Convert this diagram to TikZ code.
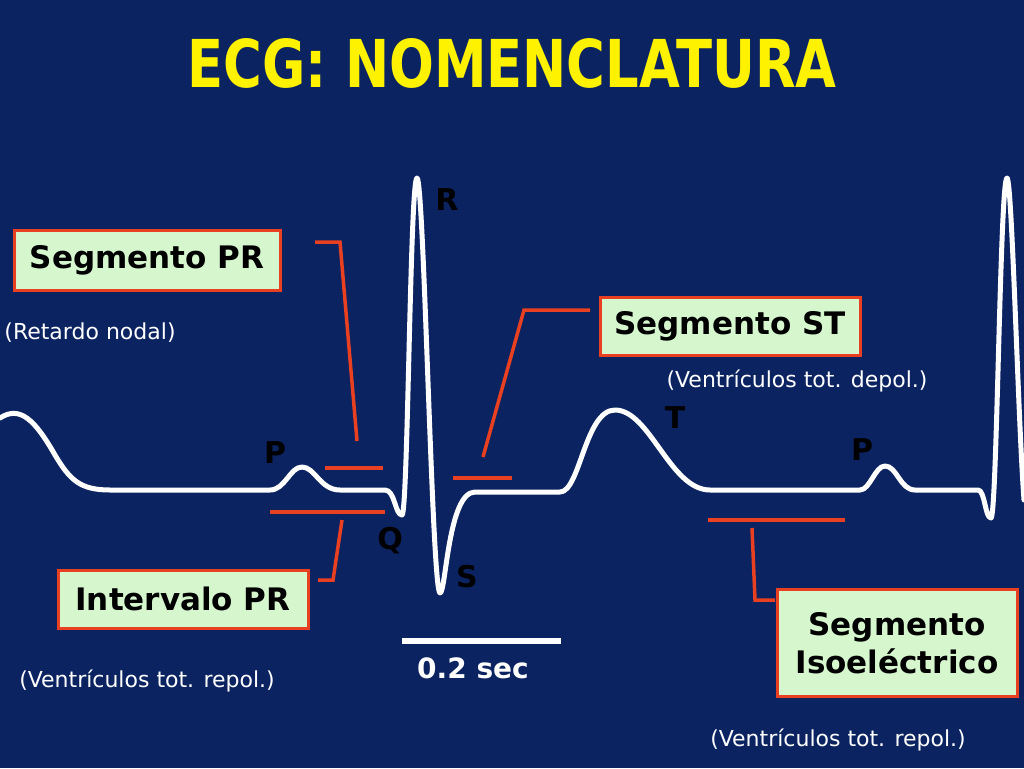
\documentclass[tikz,border=0pt]{standalone}
\usepackage{fontspec}
\setmainfont{DejaVu Sans}
\usetikzlibrary{positioning}
\definecolor{bgblue}{RGB}{11,35,96}
\definecolor{boxgreen}{RGB}{214,246,206}
\definecolor{redline}{RGB}{232,64,32}
\begin{document}
\begin{tikzpicture}[
    x=1pt, y=-1pt,
    namebox/.style={rectangle, draw=redline, fill=boxgreen, line width=3pt, inner sep=4pt, align=center, font=\fontsize{31}{38}\selectfont\bfseries},
    wave/.style={label text, font=\fontsize{30}{30}\selectfont\bfseries},
    label text/.style={text=black},
    note/.style={text=white, font=\fontsize{22}{24}\selectfont},
    marker/.style={draw=redline, line width=3.5pt}
]
\fill[bgblue] (0,0) rectangle (1024,768);
\useasboundingbox (0,0) rectangle (1024,768);

\node[text=yellow, xscale=0.8, font=\fontsize{66}{66}\selectfont\bfseries] (title) at (512,63) {ECG: NOMENCLATURA};

% ECG trace
\draw[white, line width=5pt, line join=round, line cap=round]
  (0,418) .. controls (20,405) and (35,420) .. (55,455)
  .. controls (70,480) and (80,490) .. (110,490) -- (270,490)
  .. controls (285,490) and (290,467) .. (302,467)
  .. controls (315,467) and (320,490) .. (340,490) -- (385,490)
  .. controls (395,490) and (395,515) .. (402,515)
  .. controls (408,515) and (410,178) .. (417,178)
  .. controls (424,178) and (432,593) .. (440,593)
  .. controls (446,593) and (448,492) .. (475,492) -- (560,492)
  .. controls (580,492) and (585,410) .. (615,410)
  .. controls (650,410) and (670,490) .. (710,490) -- (860,490)
  .. controls (870,490) and (875,466) .. (885,466)
  .. controls (897,466) and (900,490) .. (915,490) -- (978,490)
  .. controls (985,490) and (985,518) .. (991,518)
  .. controls (997,518) and (1000,178) .. (1007,178)
  .. controls (1012,178) and (1018,420) .. (1024,500);

% wave labels
\node[wave] (lR) at (447,200) {R};
\node[wave] (lP1) at (275,453) {P};
\node[wave] (lQ) at (390,541) {Q};
\node[wave] (lS) at (467,577) {S};
\node[wave] (lT) at (675,418) {T};
\node[wave] (lP2) at (862,450) {P};

% name boxes
\node[namebox, minimum width=266pt, minimum height=60pt] (segpr) at (147,260) {Segmento PR};
\node[namebox, minimum width=250pt, minimum height=58pt] (intpr) at (183,599) {Intervalo PR};
\node[namebox, minimum width=260pt, minimum height=58pt] (segst) at (730,326) {Segmento ST};
\node[namebox, minimum width=240pt, minimum height=107pt] (segiso) at (897,643) {Segmento\\Isoeléctrico};

% notes
\node[note] (n1) at (90,333) {(Retardo nodal)};
\node[note] (n2) at (797,381) {(Ventrículos tot. depol.)};
\node[note] (n3) at (147,681) {(Ventrículos tot. repol.)};
\node[note] (n4) at (838,740) {(Ventrículos tot. repol.)};

% markers
\coordinate (prA) at (325,468); \coordinate (prB) at (383,468);
\coordinate (ipA) at (270,512); \coordinate (ipB) at (385,512);
\coordinate (stA) at (453,478); \coordinate (stB) at (512,478);
\coordinate (isA) at (708,520); \coordinate (isB) at (845,520);
\draw[marker] (prA) -- (prB);
\draw[marker] (ipA) -- (ipB);
\draw[marker] (stA) -- (stB);
\draw[marker] (isA) -- (isB);

% leaders
\draw[marker] (315,242) -- (340,242) -- (357,441);
\draw[marker] (342,520) -- (333,580) -- (318,580);
\draw[marker] (483,457) -- (524,310) -- (590,310);
\draw[marker] (752,528) -- (755,600) -- (775,600);

% scale
\coordinate (scA) at (402,641); \coordinate (scB) at (561,641);
\draw[white, line width=6pt] (scA) -- (scB);
\node[text=white, font=\fontsize{28}{28}\selectfont\bfseries] (scale) at (473,668) {0.2 sec};
\end{tikzpicture}
\end{document}
